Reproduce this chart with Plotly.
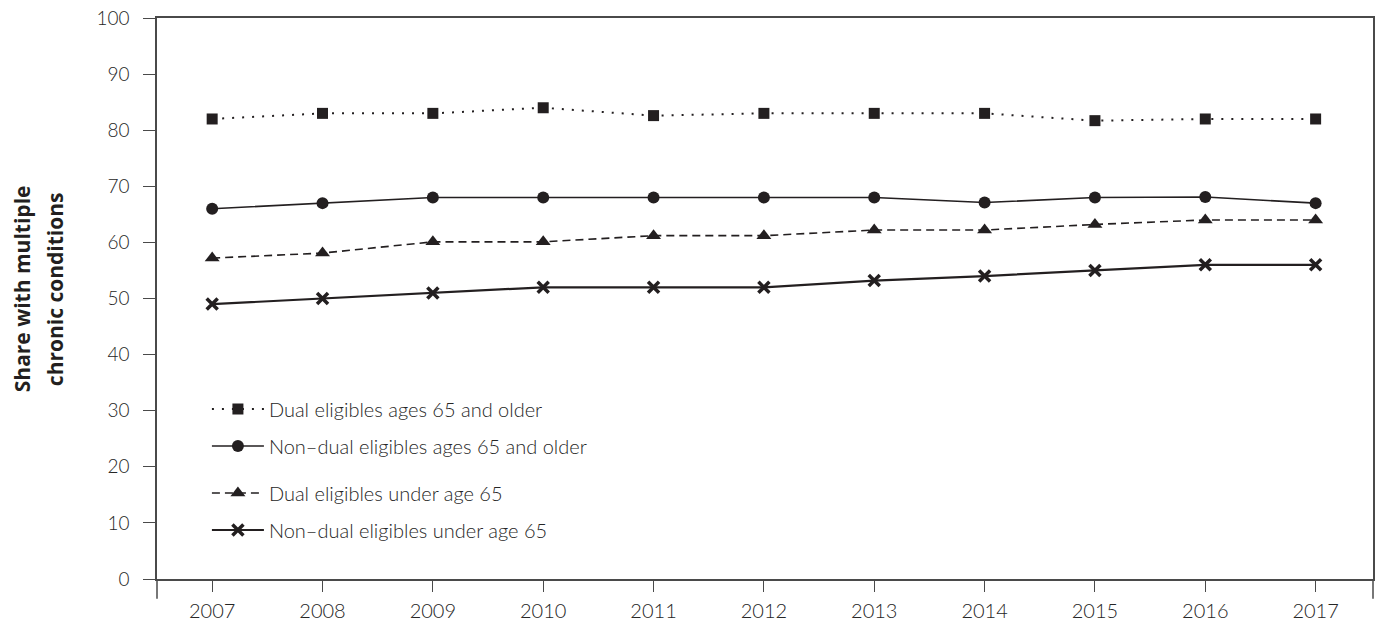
import plotly.graph_objects as go

years = ["2007", "2008", "2009", "2010", "2011", "2012", "2013", "2014", "2015", "2016", "2017"]
dual_65_older = [82, 83, 83, 84, 82.6, 83, 83, 83, 81.7, 82, 82]
nondual_65_older = [66, 67, 68, 68, 68, 68, 68, 67.1, 68, 68.1, 67]
dual_under_65 = [57.2, 58.1, 60.1, 60.1, 61.2, 61.2, 62.2, 62.2, 63.2, 64, 64]
nondual_under_65 = [49, 50, 51, 52, 52, 52, 53.2, 54, 55, 56, 56]
series_names = [
    "Dual eligibles ages 65 and older",
    "Non\u2013dual eligibles ages 65 and older",
    "Dual eligibles under age 65",
    "Non\u2013dual eligibles under age 65",
]
y_ticks = [0, 10, 20, 30, 40, 50, 60, 70, 80, 90, 100]

INK = "#231f20"
AXIS = "#4a4a4a"
TXT = "#262626"
FONT = "Lato"

fig = go.Figure()
fig.add_trace(go.Scatter(
    x=years, y=dual_65_older, name=series_names[0], mode="lines+markers",
    line=dict(color=INK, width=2, dash="2px,8px"),
    marker=dict(symbol="square", size=11, color=INK), legend="legend"))
fig.add_trace(go.Scatter(
    x=years, y=nondual_65_older, name=series_names[1], mode="lines+markers",
    line=dict(color=INK, width=1.6),
    marker=dict(symbol="circle", size=12, color=INK), legend="legend2"))
fig.add_trace(go.Scatter(
    x=years, y=dual_under_65, name=series_names[2], mode="lines+markers",
    line=dict(color=INK, width=1.6, dash="8px,5px"),
    marker=dict(symbol="triangle-up", size=13, color=INK), legend="legend3"))
fig.add_trace(go.Scatter(
    x=years, y=nondual_under_65, name=series_names[3], mode="lines+markers",
    line=dict(color=INK, width=2.2),
    marker=dict(symbol="x-thin", size=11, color=INK, line=dict(color=INK, width=3.5)),
    legend="legend4"))

L, R, T, B = 157, 2, 18, 51
W, H = 1377, 630
pw = W - L - R
ph = H - T - B

def py(pix):
    return (H - B - pix) / ph

def px(pix):
    return (pix - L) / pw

leg_common = dict(xanchor="left", yanchor="middle", bgcolor="rgba(0,0,0,0)",
                  font=dict(family=FONT, size=20, color=TXT, weight=300), itemwidth=52,
                  borderwidth=0)
fig.update_layout(
    width=W, height=H,
    margin=dict(l=L, r=R, t=T, b=B, pad=0),
    paper_bgcolor="white", plot_bgcolor="white",
    showlegend=True,
    legend=dict(x=px(207), y=py(409), **leg_common),
    legend2=dict(x=px(207), y=py(446), **leg_common),
    legend3=dict(x=px(207), y=py(493), **leg_common),
    legend4=dict(x=px(207), y=py(530), **leg_common),
    font=dict(family=FONT, color=TXT),
)
fig.update_xaxes(
    type="category", range=[-0.5, 10.52], showgrid=False, zeroline=False,
    showline=True, linecolor=AXIS, linewidth=1.5, mirror=True,
    ticks="outside", ticklen=11, tickwidth=1.3, tickcolor=AXIS,
    tickfont=dict(family=FONT, size=20, color=TXT, weight=300), ticklabelstandoff=2,
)
fig.update_yaxes(
    range=[0, 100], tickvals=y_ticks, showgrid=False, zeroline=False,
    showline=True, linecolor=AXIS, linewidth=1.5, mirror=True,
    ticks="outside", ticklen=12, tickwidth=1.3, tickcolor=AXIS,
    tickfont=dict(family=FONT, size=19, color=TXT, weight=300), ticklabelstandoff=10,
)
for xe in (0, 1):
    fig.add_shape(type="line", xref="paper", yref="paper", x0=xe, x1=xe,
                  y0=0, y1=-0.035, line=dict(color=AXIS, width=1.5))

fig.add_annotation(text="<b>Share with multiple</b>", xref="paper", yref="paper",
                   x=px(22), y=py(289), xanchor="center", yanchor="middle",
                   textangle=-90, showarrow=False,
                   font=dict(family="Open Sans", size=21, color=INK))
fig.add_annotation(text="<b>chronic conditions</b>", xref="paper", yref="paper",
                   x=px(55), y=py(289), xanchor="center", yanchor="middle",
                   textangle=-90, showarrow=False,
                   font=dict(family="Open Sans", size=21, color=INK))

fig.write_html("out.html",
               config={"displayModeBar": False},
               post_script="document.body.style.margin='0';document.body.style.overflow='hidden';")
